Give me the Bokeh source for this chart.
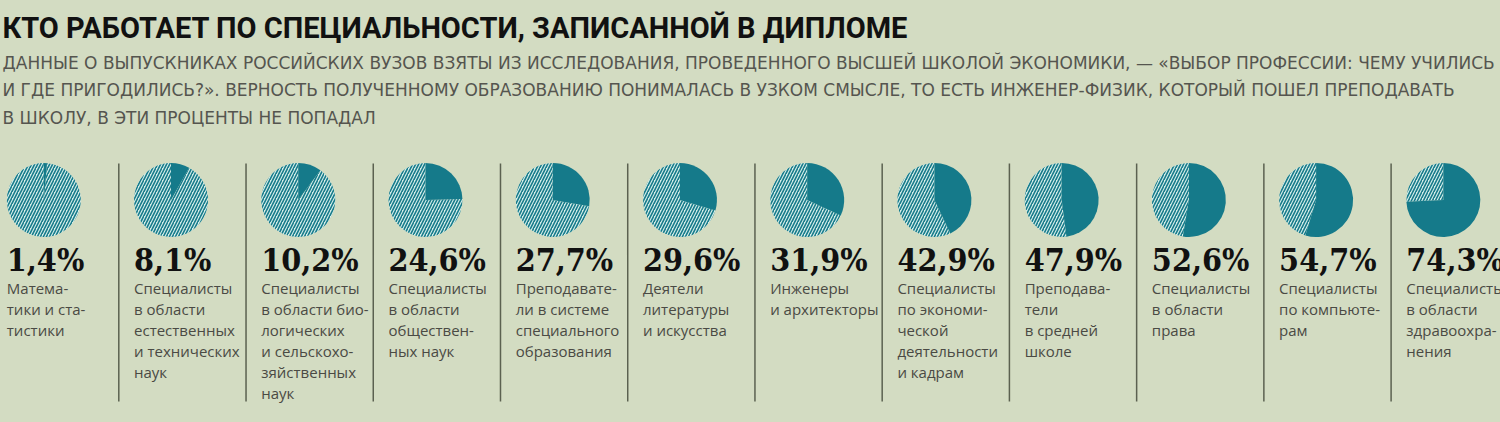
import numpy as np
from bokeh.plotting import figure
from bokeh.models import ColumnDataSource, Range1d
from bokeh.core.properties import value
from bokeh.embed import file_html
from bokeh.resources import INLINE

# ---------------- data ----------------
title = "КТО РАБОТАЕТ ПО СПЕЦИАЛЬНОСТИ, ЗАПИСАННОЙ В ДИПЛОМЕ"
subtitle_lines = [
    "ДАННЫЕ О ВЫПУСКНИКАХ РОССИЙСКИХ ВУЗОВ ВЗЯТЫ ИЗ ИССЛЕДОВАНИЯ, ПРОВЕДЕННОГО ВЫСШЕЙ ШКОЛОЙ ЭКОНОМИКИ, — «ВЫБОР ПРОФЕССИИ: ЧЕМУ УЧИЛИСЬ",
    "И ГДЕ ПРИГОДИЛИСЬ?». ВЕРНОСТЬ ПОЛУЧЕННОМУ ОБРАЗОВАНИЮ ПОНИМАЛАСЬ В УЗКОМ СМЫСЛЕ, ТО ЕСТЬ ИНЖЕНЕР-ФИЗИК, КОТОРЫЙ ПОШЕЛ ПРЕПОДАВАТЬ",
    "В ШКОЛУ, В ЭТИ ПРОЦЕНТЫ НЕ ПОПАДАЛ",
]
categories = [
    "Матема-\nтики  и ста-\nтистики",
    "Специалисты\nв области\nестественных\nи технических\nнаук",
    "Специалисты\nв области био-\nлогических\nи сельскохо-\nзяйственных\nнаук",
    "Специалисты\nв области\nобществен-\nных наук",
    "Преподавате-\nли в системе\nспециального\nобразования",
    "Деятели\nлитературы\nи искусства",
    "Инженеры\nи архитекторы",
    "Специалисты\nпо экономи-\nческой\nдеятельности\nи кадрам",
    "Преподава-\nтели\nв средней\nшколе",
    "Специалисты\nв области\nправа",
    "Специалисты\nпо компьюте-\nрам",
    "Специалисты\nв области\nздравоохра-\nнения",
]
values = [1.4, 8.1, 10.2, 24.6, 27.7, 29.6, 31.9, 42.9, 47.9, 52.6, 54.7, 74.3]

# ---------------- style / layout ----------------
BG = "#d3dcc2"
TEAL = "#157a8a"
HATCH_BG = "#d2ece8"
W, H = 1500, 422

p = figure(width=W, height=H, x_range=Range1d(0, W), y_range=Range1d(H, 0),
           output_backend="svg", toolbar_location=None, min_border=0,
           x_axis_location=None, y_axis_location=None)
p.grid.visible = False
p.outline_line_color = None
p.background_fill_color = BG
p.border_fill_color = BG

n = len(values)
x0, step = 43.3, 127.23
cx = x0 + step * np.arange(n)
cy = np.full(n, 199.5)
r = 37.0
frac = np.array(values) / 100.0
start = np.full(n, np.pi / 2)
end = start - 2 * np.pi * frac

pie = ColumnDataSource(dict(x=cx, y=cy, start=start, end=end))
# hatched remainder
p.wedge(x="x", y="y", radius=r, start_angle="start", end_angle="end", direction="anticlock",
        source=pie, fill_color=HATCH_BG, line_color=None,
        hatch_pattern="/", hatch_color=TEAL, hatch_weight=1.6, hatch_scale=6)
# share working in speciality
p.wedge(x="x", y="y", radius=r, start_angle="start", end_angle="end", direction="clock",
        source=pie, fill_color=TEAL, line_color=None)

# separators
sep_x = cx[:-1] + 75
p.segment(x0=sep_x, y0=np.full(n - 1, 163), x1=sep_x, y1=np.full(n - 1, 401),
          line_color="#5b6150", line_width=1.5)

# percentages
pct = [f"{v:.1f}".replace(".", ",") + "%" for v in values]
p.text(x=cx - r, y=np.full(n, 259), text=pct,
       text_font=value("DejaVu Serif Condensed"), text_font_style="bold",
       text_font_size="32px", text_color="#111111",
       text_baseline="alphabetic", text_align="left")

# category labels
lx, ly, lt = [], [], []
for i, cat in enumerate(categories):
    for j, line in enumerate(cat.split("\n")):
        lx.append(cx[i] - r)
        ly.append(287 + 21 * j)
        lt.append(line)
p.text(x=lx, y=ly, text=lt, text_font=value("Open Sans"), text_font_size="15px",
       text_color="#4a4a44", text_baseline="alphabetic", text_align="left")

# title & subtitle
p.text(x=[2], y=[27], text=[title], text_font=value("Roboto"),
       text_font_style="bold", text_font_size="29px", text_color="#111111",
       text_baseline="alphabetic", text_align="left")
p.text(x=[2, 2, 2], y=[62, 89, 117], text=subtitle_lines, text_font=value("DejaVu Sans"),
       text_font_size="17px", text_color="#55554f",
       text_baseline="alphabetic", text_align="left")

html = file_html(p, INLINE, title="Кто работает по специальности")
html = html.replace("</head>",
                    "<style>html,body{margin:0;padding:0;background:" + BG +
                    ";overflow:hidden;}</style></head>", 1)
open("out.html", "w").write(html)
